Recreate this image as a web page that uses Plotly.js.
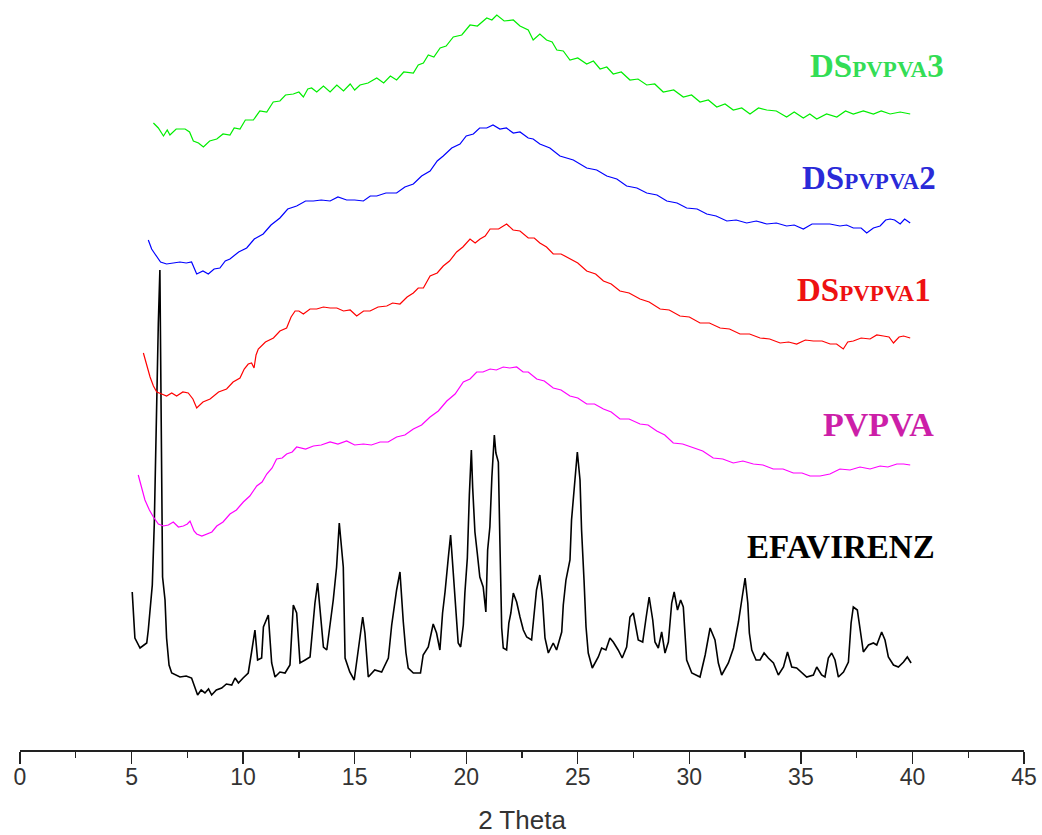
<!DOCTYPE html>
<html>
<head>
<meta charset="utf-8">
<script src="https://cdn.plot.ly/plotly-3.0.1.min.js"></script>
<style>html,body{margin:0;padding:0;background:#fff;}#chart{width:1042px;height:835px;}</style>
</head>
<body>
<div id="chart"></div>
<script>
// ---- EFAVIRENZ (2 theta, offset intensity) ----
const efTheta = [
 5.03,5.08,5.15,5.38,5.68,5.75,5.83,5.93,6.02,6.10,
 6.20,6.27,6.32,6.39,6.50,6.57,6.68,6.80,7.17,7.45,
 7.69,7.84,7.96,8.12,8.29,8.45,8.59,8.80,9.04,9.25,
 9.49,9.64,9.79,10.0,10.23,10.38,10.53,10.65,10.83,10.91,
 11.13,11.28,11.43,11.65,11.88,12.1,12.25,12.4,12.55,12.78,
 13.0,13.22,13.34,13.45,13.6,13.75,14.04,14.19,14.31,14.49,
 14.57,14.78,14.98,15.24,15.36,15.46,15.61,15.9,16.21,16.51,
 16.66,16.88,17.03,17.18,17.3,17.4,17.63,17.95,18.07,18.3,
 18.52,18.67,18.82,18.94,19.05,19.2,19.3,19.42,19.54,19.64,
 19.75,19.87,19.94,20.05,20.14,20.23,20.29,20.39,20.49,20.61,
 20.76,20.88,20.96,21.06,21.15,21.26,21.33,21.44,21.51,21.59,
 21.66,21.81,21.91,22.0,22.11,22.26,22.41,22.56,22.71,22.93,
 23.03,23.15,23.3,23.42,23.53,23.68,23.9,24.05,24.28,24.35,
 24.47,24.65,24.72,24.87,24.98,25.1,25.17,25.28,25.37,25.47,
 25.65,25.92,26.07,26.26,26.44,26.59,26.81,26.99,27.19,27.34,
 27.49,27.71,27.91,28.06,28.2,28.36,28.46,28.61,28.76,28.91,
 29.06,29.21,29.32,29.47,29.61,29.73,29.88,30.11,30.48,30.71,
 30.93,31.15,31.3,31.45,31.75,31.98,32.2,32.35,32.5,32.62,
 32.69,32.8,32.99,33.17,33.35,33.54,33.77,33.99,34.22,34.4,
 34.59,34.81,35.04,35.26,35.56,35.71,35.93,36.08,36.23,36.38,
 36.53,36.68,36.91,37.13,37.25,37.35,37.53,37.65,37.8,38.03,
 38.25,38.4,38.62,38.77,38.92,39.15,39.37,39.6,39.77,39.94
];
const efIntensity = [
 158,137,112,102,107,120,140,165,227,325,
 427,480,327,173,150,112,85,77,73,74,
 72,63,55,60,57,61,55,60,62,66,
 65,72,67,72,77,98,120,90,92,123,
 135,87,73,78,77,85,145,137,87,90,
 93,147,167,140,103,100,150,183,227,183,
 92,78,70,113,133,117,73,80,78,92,
 125,160,178,128,97,82,77,77,95,103,
 126,117,100,137,158,193,215,177,140,107,
 103,125,157,192,255,300,262,218,198,173,
 163,138,200,223,273,315,297,288,208,122,
 102,100,127,137,157,148,133,120,113,110,
 133,160,175,150,112,97,107,100,118,145,
 170,190,230,270,298,270,220,170,123,97,
 82,93,102,100,112,108,100,92,103,133,
 137,110,108,132,153,130,108,102,118,97,
 108,147,158,140,150,143,90,77,73,95,
 122,110,87,75,87,102,128,150,172,147,
 117,100,90,90,97,92,87,75,83,98,
 83,82,77,73,75,83,75,73,92,97,
 90,73,78,88,127,143,140,120,98,105,
 107,105,118,110,93,85,83,88,93,87
];

// ---- PVPVA ----
const pvTheta = [5.3,5.45,5.6,5.8,5.98,6.2,6.43,6.65,6.87,7.1,7.32,7.5,7.62,7.8,7.92,8.15,8.37,8.6,8.82,9.1,9.41,9.7,10.01,10.3,10.61,10.85,11.06,11.3,11.5,11.75,11.95,12.2,12.4,12.8,13.15,13.5,13.9,14.25,14.64,15.0,15.39,15.75,16.14,16.5,16.88,17.25,17.63,18.0,18.38,18.75,19.13,19.5,19.87,20.17,20.47,20.75,21.07,21.35,21.66,21.95,22.26,22.55,22.78,23.16,23.5,23.9,24.25,24.65,25.0,25.4,25.75,26.15,26.5,26.89,27.3,27.79,28.15,28.54,28.9,29.28,29.7,30.18,30.6,31.07,31.5,31.97,32.4,32.87,33.3,33.76,34.2,34.66,35.05,35.41,35.86,36.3,36.75,37.2,37.65,38.1,38.55,38.9,39.3,39.6,39.9];
const pvIntensity = [275,262,250,240,233,226,224,225,228,223,224,226,229,219,216,214,216,218,224,228,236,240,248,254,264,268,276,282,291,292,296,298,303,301,304,305,308,306,309,305,306,305,308,308,313,315,321,325,333,339,349,356,368,371,378,378,381,380,383,382,383,378,378,371,369,362,360,354,352,346,346,341,338,331,331,326,325,319,315,307,306,302,299,292,291,287,289,286,285,281,281,277,277,274,274,276,281,280,283,281,284,283,286,286,285];

// ---- DS PVPVA 1 ----
const ds1Theta = [5.53,5.68,5.83,5.98,6.13,6.35,6.57,6.8,7.02,7.3,7.54,7.75,7.92,8.2,8.52,8.9,9.26,9.55,9.86,10.05,10.23,10.38,10.49,10.58,10.68,11.0,11.36,11.65,11.95,12.15,12.33,12.5,12.7,13.0,13.3,13.6,13.9,14.2,14.5,14.8,15.09,15.4,15.69,16.05,16.44,16.7,17.03,17.35,17.63,17.85,18.08,18.38,18.7,18.97,19.25,19.57,19.85,20.17,20.4,20.62,20.85,21.07,21.45,21.81,22.1,22.41,22.78,23.05,23.3,23.6,23.9,24.25,24.65,25.0,25.4,25.8,26.15,26.5,26.89,27.3,27.79,28.2,28.69,29.1,29.58,30.0,30.48,30.9,31.38,31.8,32.27,32.7,33.17,33.6,34.07,34.45,34.81,35.2,35.56,35.95,36.31,36.6,36.9,37.1,37.35,37.7,38.1,38.4,38.7,38.95,39.15,39.4,39.6,39.9];
const ds1Intensity = [397,384,373,364,358,356,354,357,354,358,357,351,342,348,351,358,361,368,372,381,386,387,382,395,401,408,412,419,422,433,439,439,436,441,441,443,442,442,439,440,434,439,439,443,444,447,446,453,457,462,462,474,477,484,489,498,503,511,507,511,514,521,521,526,520,519,512,512,507,503,496,496,491,487,479,476,469,466,459,457,451,448,441,440,434,433,427,427,422,421,416,416,412,411,407,408,406,410,409,409,406,406,401,408,409,412,411,415,414,413,407,413,414,412];

// ---- DS PVPVA 2 ----
const ds2Theta = [5.75,5.9,6.05,6.3,6.57,6.85,7.17,7.45,7.69,7.92,8.2,8.44,8.7,8.96,9.2,9.41,9.8,10.16,10.5,10.9,11.25,11.65,12.0,12.4,12.8,13.15,13.5,13.9,14.25,14.64,15.0,15.39,15.7,15.99,16.4,16.88,17.25,17.63,18.0,18.38,18.7,18.97,19.35,19.72,20.0,20.32,20.6,20.92,21.2,21.51,21.8,22.11,22.41,22.78,23.0,23.3,23.75,24.2,24.8,25.4,25.85,26.3,26.75,27.19,27.65,28.09,28.55,28.99,29.45,29.88,30.35,30.78,31.2,31.68,32.1,32.57,33.0,33.47,33.9,34.36,34.7,35.11,35.5,35.86,36.3,36.75,37.05,37.35,37.7,37.95,38.25,38.55,38.8,39.0,39.2,39.45,39.65,39.9];
const ds2Intensity = [510,501,496,488,486,487,488,487,488,476,479,476,481,482,489,491,498,502,511,516,525,532,541,544,549,549,550,549,553,550,550,549,554,554,557,557,563,566,574,579,589,594,602,606,614,616,622,622,625,621,622,617,618,612,611,606,602,594,590,582,580,574,571,564,562,557,555,549,547,542,541,536,534,529,530,527,529,526,527,524,525,521,526,526,526,524,525,522,522,517,522,524,530,531,530,526,531,527];

// ---- DS PVPVA 3 ----
const ds3Theta = [5.98,6.2,6.43,6.6,6.72,7.0,7.4,7.6,7.77,8.0,8.22,8.5,8.82,9.1,9.41,9.6,9.86,10.1,10.46,10.75,11.06,11.35,11.65,11.9,12.25,12.5,12.7,12.9,13.07,13.3,13.6,13.9,14.2,14.5,14.8,15.0,15.24,15.6,15.99,16.3,16.6,16.88,17.2,17.63,17.85,18.08,18.3,18.55,18.83,19.1,19.42,19.8,20.17,20.5,20.92,21.15,21.37,21.7,22.11,22.41,22.78,23.0,23.3,23.6,23.85,24.06,24.35,24.65,25.0,25.4,25.7,26.0,26.3,26.59,26.95,27.34,27.7,28.09,28.45,28.83,29.3,29.73,30.1,30.48,30.85,31.23,31.6,31.97,32.35,32.72,33.1,33.47,33.9,34.36,34.7,35.11,35.4,35.71,36.15,36.61,37.0,37.35,37.8,38.25,38.6,39.0,39.45,39.9];
const ds3Intensity = [627,622,614,620,615,621,621,618,609,607,603,609,611,616,615,622,621,630,630,639,638,648,649,655,656,658,653,661,662,658,664,658,665,659,666,660,665,667,672,667,674,670,678,677,685,687,695,693,702,704,713,715,725,724,732,730,735,729,730,724,720,710,716,710,708,700,699,690,692,686,689,681,683,676,678,670,671,665,666,658,660,653,655,648,650,643,646,640,642,636,642,640,639,633,638,632,636,631,636,633,639,636,639,636,639,636,638,636];

const xTicks = [0,5,10,15,20,25,30,35,40,45];
const minorTicks = [2.5,7.5,12.5,17.5,22.5,27.5,32.5,37.5,42.5];
const labels = ["EFAVIRENZ","PVPVA","DS<span style='font-size:23px'>PVPVA</span>1","DS<span style='font-size:23px'>PVPVA</span>2","DS<span style='font-size:23px'>PVPVA</span>3"];

function line(x, y, color, width) {
  return {x: x, y: y, type: 'scatter', mode: 'lines', line: {color: color, width: width}, hoverinfo: 'skip', showlegend: false};
}

const data = [
  line(efTheta, efIntensity, '#000000', 1.6),
  line(pvTheta, pvIntensity, '#ff00ff', 1.2),
  line(ds1Theta, ds1Intensity, '#ff0000', 1.2),
  line(ds2Theta, ds2Intensity, '#0000ff', 1.2),
  line(ds3Theta, ds3Intensity, '#00ee00', 1.2)
];

const serif = '"Liberation Serif", "Times New Roman", serif';
function lab(text, x, y, color, size) {
  return {text: text, x: x, y: y, xref: 'x', yref: 'y', xanchor: 'left', yanchor: 'middle', showarrow: false,
          font: {family: serif, size: size, color: color, weight: 'bold'}};
}

const sans = 'Arial, "Liberation Sans", sans-serif';
const layout = {
  width: 1042, height: 835,
  margin: {l: 20, r: 18, t: 0, b: 85},
  paper_bgcolor: '#ffffff', plot_bgcolor: '#ffffff',
  showlegend: false,
  xaxis: {
    range: [0, 45], tickvals: xTicks, ticktext: xTicks.map(String),
    showline: true, linecolor: '#222', linewidth: 1.5,
    ticks: 'outside', ticklen: 12, tickwidth: 1.3, tickcolor: '#222',
    ticklabelstandoff: -6,
    minor: {tickvals: minorTicks, ticks: 'outside', ticklen: 6, tickwidth: 1.3, tickcolor: '#222'},
    showgrid: false, zeroline: false, automargin: false,
    tickfont: {family: sans, size: 23, color: '#333'},
    title: {text: '2 Theta', font: {family: sans, size: 26, color: '#333'}, standoff: 30}
  },
  yaxis: {visible: false, range: [0, 750], showgrid: false, zeroline: false},
  annotations: [
    lab(labels[0], 32.5, 203, '#000000', 33),
    lab(labels[1], 35.9, 326, '#cc1fa8', 34),
    lab(labels[2], 34.74, 460, '#ee1111', 33),
    lab(labels[3], 34.96, 572.5, '#2a2ad8', 33),
    lab(labels[4], 35.32, 684.5, '#33dd55', 33)
  ]
};

Plotly.newPlot('chart', data, layout, {staticPlot: true, displayModeBar: false});
</script>
</body>
</html>
